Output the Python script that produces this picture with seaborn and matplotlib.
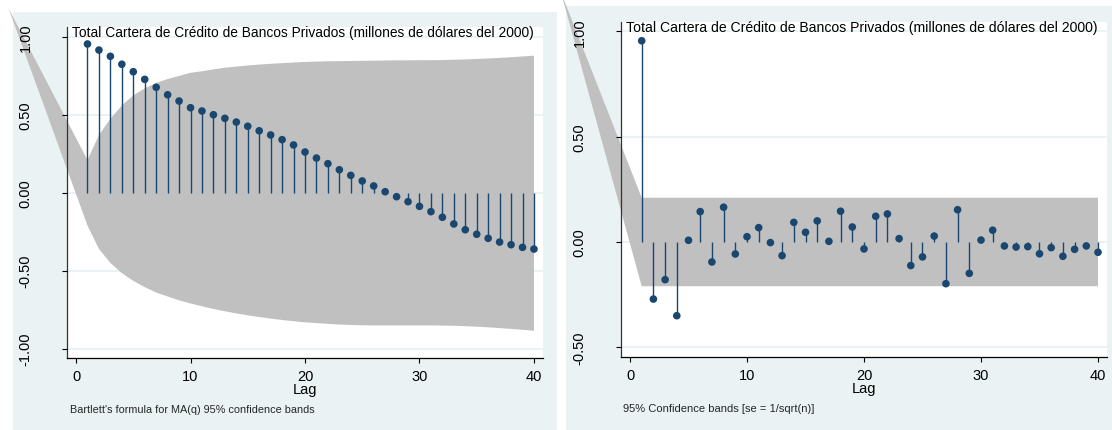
import matplotlib
matplotlib.use("Agg")
import matplotlib.pyplot as plt
from matplotlib.patches import Rectangle
import seaborn as sns

# ---- data -------------------------------------------------------------
lags = list(range(1, 41))

acf_values = [0.955, 0.916, 0.876, 0.825, 0.777, 0.728, 0.677, 0.629, 0.589, 0.546,
              0.525, 0.501, 0.478, 0.454, 0.427, 0.398, 0.371, 0.341, 0.307, 0.262,
              0.223, 0.187, 0.148, 0.112, 0.076, 0.044, 0.007, -0.025, -0.057, -0.087,
              -0.121, -0.157, -0.200, -0.237, -0.266, -0.292, -0.316, -0.333, -0.350, -0.361]

# Bartlett MA(q) 95% confidence band, upper and lower edge per lag
acf_upper = [0.21, 0.37, 0.475, 0.56, 0.625, 0.67, 0.705, 0.73, 0.75, 0.77,
             0.78, 0.792, 0.803, 0.81, 0.817, 0.823, 0.828, 0.832, 0.836, 0.84,
             0.842, 0.844, 0.845, 0.846, 0.847, 0.848, 0.849, 0.85, 0.85, 0.851,
             0.851, 0.852, 0.854, 0.856, 0.859, 0.862, 0.866, 0.87, 0.875, 0.88]
acf_lower = [-0.21, -0.36, -0.45, -0.515, -0.565, -0.605, -0.64, -0.665, -0.69, -0.71,
             -0.728, -0.745, -0.76, -0.774, -0.786, -0.797, -0.807, -0.816, -0.824, -0.831,
             -0.836, -0.841, -0.845, -0.848, -0.85, -0.851, -0.851, -0.851, -0.851, -0.851,
             -0.851, -0.852, -0.853, -0.856, -0.859, -0.863, -0.868, -0.873, -0.879, -0.885]

pacf_values = [0.955, -0.271, -0.179, -0.350, 0.008, 0.144, -0.095, 0.165, -0.057, 0.025,
               0.068, -0.003, -0.065, 0.093, 0.046, 0.100, 0.003, 0.146, 0.071, -0.033,
               0.122, 0.133, 0.016, -0.112, -0.071, 0.028, -0.198, 0.153, -0.149, 0.009,
               0.056, -0.019, -0.024, -0.022, -0.056, -0.027, -0.068, -0.035, -0.019, -0.049]

# 95% band, se = 1/sqrt(n)
pacf_upper = [0.21] * 40
pacf_lower = [-0.21] * 40

# first vertex of the shaded band (lag, value)
band_start = (-5.9, 1.185)

title = "Total Cartera de Crédito de Bancos Privados (millones de dólares del 2000)"
acf_note = "Bartlett's formula for MA(q) 95% confidence bands"
pacf_note = "95% Confidence bands [se = 1/sqrt(n)]"

acf_yticks = [-1.0, -0.5, 0.0, 0.5, 1.0]
acf_yticklabels = ["-1.00", "-0.50", "0.00", "0.50", "1.00"]
pacf_yticks = [-0.5, 0.0, 0.5, 1.0]
pacf_yticklabels = ["-0.50", "0.00", "0.50", "1.00"]
xticks = [0, 10, 20, 30, 40]

# ---- style ------------------------------------------------------------
sns.set_theme(style="white")
plt.rcParams["font.family"] = ["Liberation Sans", "DejaVu Sans"]

NAVY = "#1a476f"
BAND = "#c0c0c0"
PANEL_BG = "#eaf2f3"
GRID = "#eaf2f3"

W, H = 1112, 431
fig = plt.figure(figsize=(W / 100, H / 100), dpi=100)
fig.patch.set_facecolor("white")


def box(x0, y0, x1, y1):
    """Pixel box measured from the top-left corner -> figure fractions."""
    return [x0 / W, 1 - y1 / H, (x1 - x0) / W, (y1 - y0) / H]


# graph-region backgrounds
for x0, y0, x1, y1 in [(13, 13, 557, 431), (566, 7, 1112, 431)]:
    l, b, w, h = box(x0, y0, x1, y1)
    fig.add_artist(Rectangle((l, b), w, h, transform=fig.transFigure,
                             facecolor=PANEL_BG, edgecolor="none", zorder=-1))

ax1 = fig.add_axes(box(67, 28, 543, 359))
ax2 = fig.add_axes(box(621, 23, 1107, 358))


def panel(ax, values, upper, lower, yticks, yticklabels, ylim, xlim, title_size):
    ax.set_facecolor("white")
    ax.set_axisbelow(False)
    ax.set_xlim(*xlim)
    ax.set_ylim(*ylim)

    for t in yticks:
        ax.axhline(t, color=GRID, lw=1.4, zorder=0.5)

    xs = [band_start[0]] + lags + lags[::-1]
    ys = [band_start[1]] + list(upper) + list(lower)[::-1]
    ax.fill(xs, ys, color=BAND, lw=0, zorder=1, clip_on=False)

    ax.vlines(lags, 0, values, color=NAVY, lw=1.0, zorder=2)
    sns.scatterplot(x=lags, y=values, ax=ax, color=NAVY, s=30,
                    edgecolor="none", linewidth=0, zorder=3, legend=False,
                    clip_on=False)

    for side in ("top", "right"):
        ax.spines[side].set_visible(False)
    ax.spines["left"].set_color("#333333")
    ax.spines["bottom"].set_color("black")
    ax.spines["left"].set_linewidth(0.9)
    ax.spines["bottom"].set_linewidth(0.9)

    ax.set_yticks(yticks)
    ax.set_yticklabels(yticklabels, rotation=90, va="center")
    ax.set_xticks(xticks)
    ax.set_xticklabels([str(t) for t in xticks])
    ax.tick_params(axis="y", length=3.6, width=0.8, pad=21, labelsize=10.5,
                   colors="black", left=True)
    ax.tick_params(axis="x", length=3.6, width=0.8, pad=4.5, labelsize=10.5,
                   colors="black", bottom=True)
    ax.set_xlabel("Lag", fontsize=10.5, labelpad=-1, color="black")
    ax.set_ylabel("")
    ax.text(0.0105, 0.973, title, transform=ax.transAxes, fontsize=title_size,
            va="baseline", ha="left", color="black")


panel(ax1, acf_values, acf_upper, acf_lower, acf_yticks, acf_yticklabels,
      (-1.060, 1.064), (-0.79, 40.79), 9.95)
panel(ax2, pacf_values, pacf_upper, pacf_lower, pacf_yticks, pacf_yticklabels,
      (-0.546, 1.044), (-0.77, 40.77), 10.1)

fig.text(70 / W, 1 - 410 / H, acf_note, fontsize=7.85, va="center", ha="left")
fig.text(623 / W, 1 - 409 / H, pacf_note, fontsize=8.0, va="center", ha="left")

fig.savefig("out.png", dpi=100)
